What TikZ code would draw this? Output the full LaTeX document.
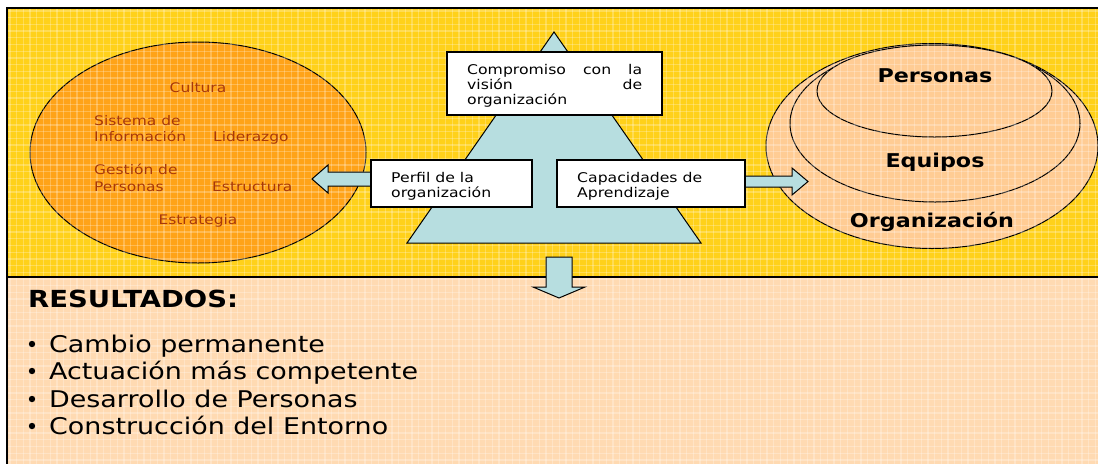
\documentclass[tikz,border=0pt]{standalone}
\usepackage{fontspec}
\setmainfont{DejaVu Sans}[FakeStretch=1.17]
\usetikzlibrary{shapes.geometric}
\definecolor{panelY}{HTML}{FFD11A}
\definecolor{panelP}{HTML}{FFDAB2}
\definecolor{orangeE}{HTML}{FFA318}
\definecolor{peachE}{HTML}{FFCC94}
\definecolor{blueT}{HTML}{B7DEE0}
\definecolor{redT}{HTML}{A8380A}
\tikzset{
  ell/.style={ellipse, draw=black, line width=1pt, inner sep=0pt},
  wbox/.style={draw=black, fill=white, line width=1.6pt, inner sep=0pt},
  blk/.style={draw=black, fill=blueT, line width=1pt, line join=miter},
  ltxt/.style={text=redT, font=\fontsize{13.2}{16}\selectfont, inner sep=0pt},
  btxt/.style={text=black, font=\fontsize{13.4}{15}\selectfont, inner sep=0pt},
  rtxt/.style={text=black, font=\fontsize{19}{22}\selectfont\bfseries, inner sep=0pt},
  restxt/.style={text=black, font=\fontsize{23}{27}\selectfont, inner sep=0pt},
  gridln/.style={white, opacity=0.25, line width=1.3pt},
}
\begin{document}
\begin{tikzpicture}[x=1pt,y=-1pt]
\useasboundingbox (0,0) rectangle (1098,464);
\fill[white] (0,0) rectangle (1098,464);
% panels
\fill[panelY] (7,8) rectangle (1098,277);
\fill[panelP] (7,277) rectangle (1098,464);
% left ellipse
\node[ell, fill=orangeE, minimum width=336, minimum height=221] (lell) at (198,152.5) {};
% right nested ellipses
\node[ell, fill=peachE, minimum width=332, minimum height=205] (oell) at (932,146) {};
\node[ell, fill=peachE, minimum width=290, minimum height=157] (mell) at (935,123.5) {};
\node[ell, fill=peachE, minimum width=235, minimum height=92] (iell) at (934.5,91) {};
% texture grid
\foreach \k in {0,...,163}{
  \draw[gridln] ({10+6.7*\k},8) -- ({10+6.7*\k},464);
}
\foreach \k in {0,...,68}{
  \draw[gridln] (7,{11+6.7*\k}) -- (1098,{11+6.7*\k});
}
% frame lines
\draw[black, line width=1.3pt] (1098,8) -- (7,8) -- (7,464);
\draw[black, line width=1.3pt] (7,277) -- (1098,277);
% triangle
\draw[blk] (554,32) -- (407,243) -- (701,243) -- cycle;
% arrows
\draw[blk] (378,172) -- (328,172) -- (328,165) -- (312,179) -- (328,193) -- (328,186) -- (378,186) -- cycle;
\draw[blk] (742,176) -- (792,176) -- (792,168) -- (808,181.5) -- (792,195) -- (792,187) -- (742,187) -- cycle;
\draw[blk] (546,257) -- (572,257) -- (572,287) -- (585,287) -- (559,298) -- (533,287) -- (546,287) -- cycle;
% boxes
\node[wbox, minimum width=215, minimum height=63] (comp) at (554.5,83.5) {};
\node[wbox, minimum width=161, minimum height=47] (perf) at (451.5,183.5) {};
\node[wbox, minimum width=188, minimum height=47] (capa) at (651,183.5) {};
% box texts
\node[btxt, anchor=base west] (c1) at (467,74) {\makebox[175pt][s]{Compromiso con la}};
\node[btxt, anchor=base west] (c2) at (467,89) {\makebox[175pt][s]{visión de}};
\node[btxt, anchor=base west] (c3) at (467,104) {organización};
\node[btxt, anchor=base west] (p1) at (391,182) {Perfil de la};
\node[btxt, anchor=base west] (p2) at (391,197) {organización};
\node[btxt, anchor=base west] (k1) at (577,182) {Capacidades de};
\node[btxt, anchor=base west] (k2) at (577,197) {Aprendizaje};
% left ellipse texts
\node[ltxt, anchor=base] (cul) at (198,92) {Cultura};
\node[ltxt, anchor=base west] (sis1) at (94,125) {Sistema de};
\node[ltxt, anchor=base west] (sis2) at (94,141) {Información};
\node[ltxt, anchor=base west] (lid) at (213,141) {Liderazgo};
\node[ltxt, anchor=base west] (ges1) at (94,174) {Gestión de};
\node[ltxt, anchor=base west] (ges2) at (94,191) {Personas};
\node[ltxt, anchor=base west] (est) at (212,191) {Estructura};
\node[ltxt, anchor=base] (estr) at (198,224) {Estrategia};
% right ellipse texts
\node[rtxt, anchor=base] (per) at (935,82) {Personas};
\node[rtxt, anchor=base] (equ) at (935,167) {Equipos};
\node[rtxt, anchor=base] (org) at (932,227) {Organización};
% results
\node[restxt, font=\fontsize{23.5}{27}\selectfont\bfseries, anchor=base west] (res) at (28,307) {RESULTADOS:};
\node[restxt, anchor=base west] (r1) at (49,352) {Cambio permanente};
\node[restxt, anchor=base west] (r2) at (49,379) {Actuación más competente};
\node[restxt, anchor=base west] (r3) at (49,407) {Desarrollo de Personas};
\node[restxt, anchor=base west] (r4) at (49,434) {Construcción del Entorno};
\foreach \yy in {344,371,399,426}{
  \fill[black] (32,\yy) circle [radius=3.2pt];
}
\end{tikzpicture}
\end{document}
